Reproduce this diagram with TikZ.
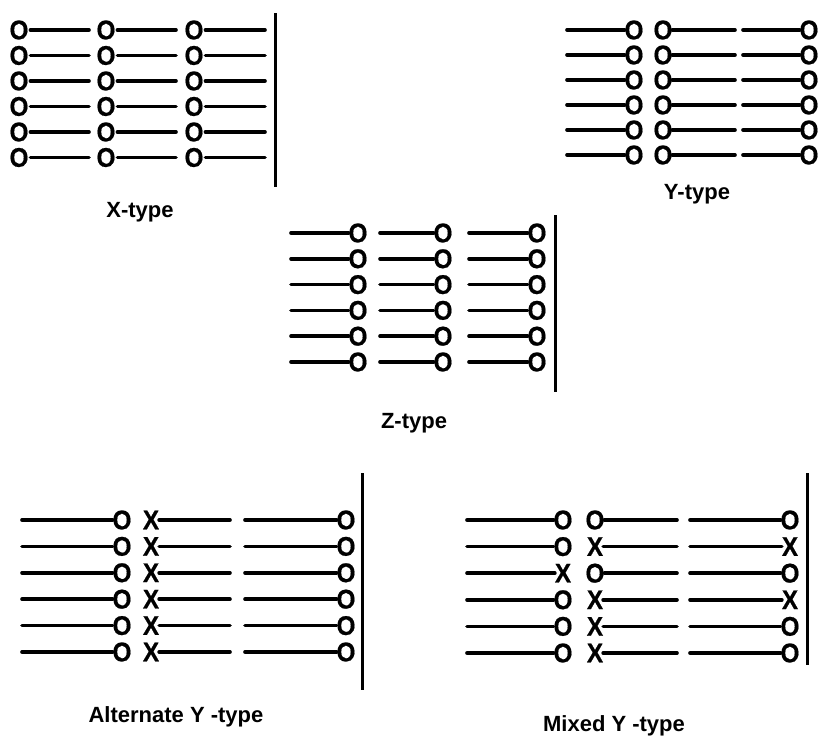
\documentclass[tikz,border=0pt]{standalone}
\usepackage{graphicx}
\usepackage{fontspec}
\setmainfont{Liberation Sans}
\newfontfamily\symfont[FakeBold=0.6]{Liberation Sans Bold}
\newcommand{\glyphsy}[1]{\scalebox{0.9}[1]{#1}}
\begin{document}
\begin{tikzpicture}[x=1pt,y=-1pt,
  sym/.style={font=\symfont\fontsize{27}{27}\selectfont, inner sep=0pt, outer sep=0pt},
  rod/.style={line width=3.6pt, line cap=round},
  wall/.style={line width=3pt},
  lbl/.style={font=\bfseries\fontsize{22}{22}\selectfont, anchor=base, inner sep=0pt}]
\useasboundingbox (0,0) rectangle (825,740);

% ---------------- X-type ----------------
\foreach \y [count=\i] in {30,55.5,81,106.5,132,157.5} {
  \node[sym] (xa\i) at (19,\y) {\glyphsy{O}};
  \node[sym] (xb\i) at (106,\y) {\glyphsy{O}};
  \node[sym] (xc\i) at (194,\y) {\glyphsy{O}};
  \coordinate (xae\i) at (89,\y);
  \coordinate (xbe\i) at (176,\y);
  \coordinate (xce\i) at (265,\y);
  \draw[rod] ([xshift=2pt]xa\i.east) -- (xae\i);
  \draw[rod] ([xshift=2pt]xb\i.east) -- (xbe\i);
  \draw[rod] ([xshift=2pt]xc\i.east) -- (xce\i);
}
\coordinate (xwt) at (275,13);
\coordinate (xwb) at (275,187);
\draw[wall] (xwt) -- (xwb);
\node[lbl] (xl) at (140,217) {X-type};

% ---------------- Y-type ----------------
\foreach \y [count=\i] in {30,55,80,105,130,155} {
  \coordinate (ys\i) at (567,\y);
  \node[sym] (ya\i) at (634,\y) {\glyphsy{O}};
  \node[sym] (yb\i) at (663,\y) {\glyphsy{O}};
  \coordinate (ybe\i) at (735,\y);
  \coordinate (yms\i) at (743,\y);
  \node[sym] (yc\i) at (809,\y) {\glyphsy{O}};
  \draw[rod] (ys\i) -- (ya\i.west);
  \draw[rod] (yb\i.east) -- (ybe\i);
  \draw[rod] (yms\i) -- (yc\i.west);
}
\node[lbl] (yl) at (697,199) {Y-type};

% ---------------- Z-type ----------------
\foreach \y [count=\i] in {233,258.8,284.6,310.4,336.2,362} {
  \coordinate (zs\i) at (291,\y);
  \node[sym] (za\i) at (358,\y) {\glyphsy{O}};
  \coordinate (zt\i) at (380,\y);
  \node[sym] (zb\i) at (443,\y) {\glyphsy{O}};
  \coordinate (zu\i) at (469,\y);
  \node[sym] (zc\i) at (537,\y) {\glyphsy{O}};
  \draw[rod] (zs\i) -- (za\i.west);
  \draw[rod] (zt\i) -- (zb\i.west);
  \draw[rod] (zu\i) -- (zc\i.west);
}
\coordinate (zwt) at (555,215);
\coordinate (zwb) at (555,392);
\draw[wall] (zwt) -- (zwb);
\node[lbl] (zl) at (414,428) {Z-type};

% ---------------- Alternate Y-type ----------------
\foreach \y [count=\i] in {520,546.4,572.8,599.2,625.6,652} {
  \coordinate (as\i) at (22,\y);
  \node[sym] (aa\i) at (122,\y) {\glyphsy{O}};
  \node[sym] (ab\i) at (151,\y) {\glyphsy{X}};
  \coordinate (abe\i) at (230,\y);
  \coordinate (ams\i) at (245,\y);
  \node[sym] (ac\i) at (346,\y) {\glyphsy{O}};
  \draw[rod] (as\i) -- (aa\i.west);
  \draw[rod] (ab\i.east) -- (abe\i);
  \draw[rod] (ams\i) -- (ac\i.west);
}
\coordinate (awt) at (362,473);
\coordinate (awb) at (362,690);
\draw[wall] (awt) -- (awb);
\node[lbl] (al) at (176,722) {Alternate Y -type};

% ---------------- Mixed Y-type ----------------
\foreach \y/\p/\q/\r [count=\i] in {520/O/O/O, 546.6/O/X/X, 573.2/X/O/O, 599.8/O/X/X, 626.4/O/X/O, 653/O/X/O} {
  \coordinate (ms\i) at (467,\y);
  \node[sym] (ma\i) at (563,\y) {\glyphsy{\p}};
  \node[sym] (mb\i) at (595,\y) {\glyphsy{\q}};
  \coordinate (mbe\i) at (677,\y);
  \coordinate (mms\i) at (690,\y);
  \node[sym] (mc\i) at (790,\y) {\glyphsy{\r}};
  \draw[rod] (ms\i) -- (ma\i.west);
  \draw[rod] (mb\i.east) -- (mbe\i);
  \draw[rod] (mms\i) -- (mc\i.west);
}
\coordinate (mwt) at (807,473);
\coordinate (mwb) at (807,665);
\draw[wall] (mwt) -- (mwb);
\node[lbl] (ml) at (614,731) {Mixed Y -type};
\end{tikzpicture}
\end{document}
